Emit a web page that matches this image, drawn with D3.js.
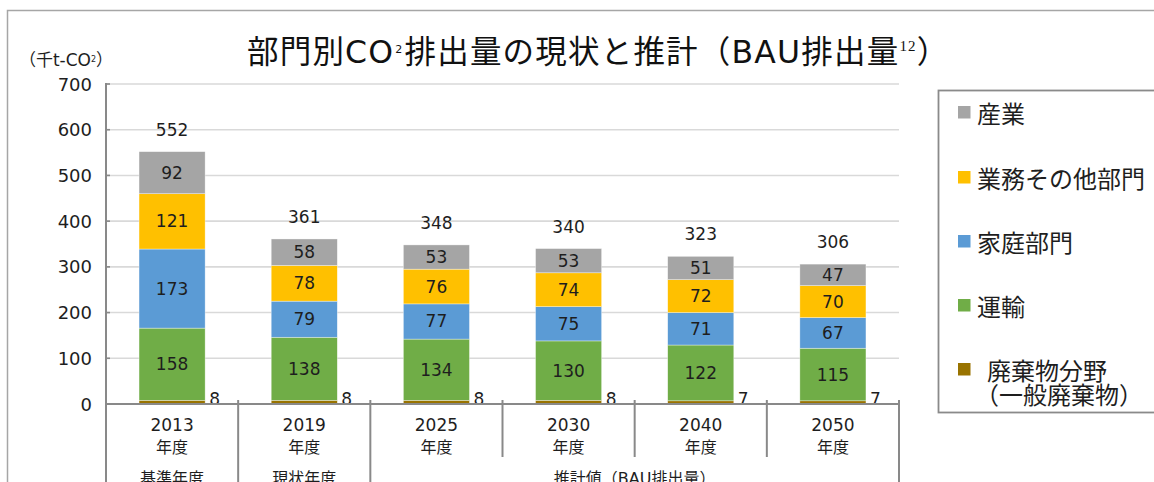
<!DOCTYPE html>
<html>
<head>
<meta charset="utf-8">
<script src="https://cdn.jsdelivr.net/npm/d3@7"></script>
<style>
  html, body { margin: 0; padding: 0; background: #fff; }
  svg { display: block; }
</style>
</head>
<body>
<svg id="chart" width="1154" height="482"></svg>
<script>
// ---- data ----
const years = ["2013", "2019", "2025", "2030", "2040", "2050"];
const waste = [8, 8, 8, 8, 7, 7];          // 廃棄物分野（一般廃棄物）
const transport = [158, 138, 134, 130, 122, 115]; // 運輸
const household = [173, 79, 77, 75, 71, 67];      // 家庭部門
const business = [121, 78, 76, 74, 72, 70];       // 業務その他部門
const industry = [92, 58, 53, 53, 51, 47];        // 産業
const totals = [552, 361, 348, 340, 323, 306];
const yTicks = [0, 100, 200, 300, 400, 500, 600, 700];
const groupLabels = ["基準年度", "現状年度", "推計値（BAU排出量）"];
const groupStart = [0, 1, 2];
const groupEnd = [0, 1, 5];

const seriesNames = ["廃棄物分野", "運輸", "家庭部門", "業務その他部門", "産業"];
const seriesValues = [waste, transport, household, business, industry];
const seriesColors = ["#997300", "#70AD47", "#5B9BD5", "#FFC000", "#A5A5A5"];

(function () {
const FONT = '"DejaVu Sans", "Noto Sans CJK JP", sans-serif';
const JFONT = '"Noto Sans CJK JP", "DejaVu Sans", sans-serif';
const TXT = "#1e1e1e";

const svg = d3.select("#chart");

// outer chart border (extends beyond the photographed area)
svg.append("rect").attr("x", 7.5).attr("y", 10.5).attr("width", 1300).attr("height", 600)
  .attr("fill", "none").attr("stroke", "#a6a6a6").attr("stroke-width", 1.5);

const pL = 106, pR = 899, pT = 84, pB = 404;

const x = d3.scaleBand().domain(years).range([pL, pR]).padding(0);
const y = d3.scaleLinear().domain([0, 700]).range([pB, pT]);
const bw = x.bandwidth();

// gridlines
svg.append("g").selectAll("line").data(yTicks.filter(d => d > 0)).join("line")
  .attr("x1", pL).attr("x2", pR)
  .attr("y1", d => y(d)).attr("y2", d => y(d))
  .attr("stroke", "#d9d9d9").attr("stroke-width", 1.6);

// y tick labels
svg.append("g").selectAll("text").data(yTicks).join("text")
  .attr("x", 92).attr("y", d => y(d))
  .attr("text-anchor", "end").attr("dominant-baseline", "central")
  .attr("font-family", FONT).attr("font-size", 18).attr("fill", TXT)
  .text(d => d);

// unit label
const unit = svg.append("text").attr("x", 66).attr("y", 66)
  .attr("text-anchor", "middle").attr("font-family", FONT).attr("font-size", 17).attr("fill", TXT);
unit.append("tspan").text("（千t-CO");
unit.append("tspan").attr("font-size", 8).attr("dy", -4).text("2");
unit.append("tspan").attr("dy", 4).text("）");

// stacked bars
const stackData = years.map((yr, i) => {
  const o = { year: yr };
  seriesNames.forEach((s, k) => o[s] = seriesValues[k][i]);
  return o;
});
const stacked = d3.stack().keys(seriesNames)(stackData);

const gBars = svg.append("g");
stacked.forEach((layer, k) => {
  gBars.append("g").selectAll("rect").data(layer).join("rect")
    .attr("x", d => x(d.data.year) + bw * 0.25)
    .attr("width", bw * 0.5)
    .attr("y", d => y(d[1]))
    .attr("height", d => y(d[0]) - y(d[1]))
    .attr("fill", seriesColors[k])
    .attr("stroke", "#ffffff").attr("stroke-width", 0.6).attr("stroke-opacity", 0.6);
});

// segment labels (except waste)
stacked.forEach((layer, k) => {
  if (k === 0) return;
  svg.append("g").selectAll("text").data(layer).join("text")
    .attr("x", d => x(d.data.year) + bw / 2)
    .attr("y", d => y((d[0] + d[1]) / 2))
    .attr("text-anchor", "middle").attr("dominant-baseline", "central")
    .attr("font-family", FONT).attr("font-size", 17).attr("fill", TXT)
    .text(d => d[1] - d[0]);
});

// waste labels to the right of the bar
svg.append("g").selectAll("text").data(stacked[0]).join("text")
  .attr("x", d => x(d.data.year) + bw * 0.75 + 4)
  .attr("y", d => y((d[0] + d[1]) / 2) - 3)
  .attr("text-anchor", "start").attr("dominant-baseline", "central")
  .attr("font-family", FONT).attr("font-size", 17).attr("fill", TXT)
  .text(d => d[1] - d[0]);

// totals
svg.append("g").selectAll("text").data(years).join("text")
  .attr("x", d => x(d) + bw / 2)
  .attr("y", (d, i) => y(totals[i]) - 22)
  .attr("text-anchor", "middle").attr("dominant-baseline", "central")
  .attr("font-family", FONT).attr("font-size", 17).attr("fill", TXT)
  .text((d, i) => totals[i]);

// axes
const AX = "#898989";
svg.append("line").attr("x1", pL).attr("x2", pR).attr("y1", pB).attr("y2", pB)
  .attr("stroke", AX).attr("stroke-width", 2);
svg.append("line").attr("x1", pL).attr("x2", pL).attr("y1", pT - 1).attr("y2", 500)
  .attr("stroke", AX).attr("stroke-width", 2);
// y ticks (inside)
svg.append("g").selectAll("line").data(yTicks).join("line")
  .attr("x1", pL).attr("x2", pL + 4).attr("y1", d => y(d)).attr("y2", d => y(d))
  .attr("stroke", AX).attr("stroke-width", 1.6);

// category separators
const boundaries = d3.range(1, years.length + 1);
const groupBoundary = new Set(groupEnd.map(e => e + 1));
svg.append("g").selectAll("line").data(boundaries).join("line")
  .attr("x1", i => pL + i * bw).attr("x2", i => pL + i * bw)
  .attr("y1", pB - 4)
  .attr("y2", i => groupBoundary.has(i) ? 500 : 457)
  .attr("stroke", AX).attr("stroke-width", 2);

// year labels
const yl = svg.append("g").selectAll("g").data(years).join("g");
yl.append("text").attr("x", d => x(d) + bw / 2).attr("y", 425)
  .attr("text-anchor", "middle").attr("dominant-baseline", "central")
  .attr("font-family", FONT).attr("font-size", 17).attr("fill", TXT).text(d => d);
yl.append("text").attr("x", d => x(d) + bw / 2).attr("y", 446)
  .attr("text-anchor", "middle").attr("dominant-baseline", "central")
  .attr("font-family", JFONT).attr("font-size", 16).attr("fill", TXT).text("年度");

// group labels (partly cut by the picture's lower edge, as in the original)
svg.append("g").selectAll("text").data(groupLabels).join("text")
  .attr("x", (d, i) => (x(years[groupStart[i]]) + x(years[groupEnd[i]]) + bw) / 2)
  .attr("y", 478.5)
  .attr("text-anchor", "middle").attr("dominant-baseline", "central")
  .attr("font-family", FONT).attr("font-size", 16).attr("fill", TXT).text(d => d);

// title
const title = svg.append("text").attr("x", 247).attr("y", 63)
  .attr("font-family", FONT).attr("font-size", 31.5).attr("letter-spacing", 1.2).attr("fill", "#111");
title.append("tspan").text("部門別CO");
title.append("tspan").attr("font-size", 11).attr("dy", -10).attr("dx", 1).text("2");
title.append("tspan").attr("dy", 10).attr("dx", 1).text("排出量の現状と推計（BAU排出量");
title.append("tspan").attr("font-size", 15).attr("font-family", '"Liberation Serif", serif').attr("dy", -12).text("12");
title.append("tspan").attr("dy", 12).text("）");

// legend
svg.append("rect").attr("x", 938.5).attr("y", 90.5).attr("width", 400).attr("height", 322)
  .attr("fill", "#fff").attr("stroke", "#8a8a8a").attr("stroke-width", 1.8);
const legendOrder = [4, 3, 2, 1, 0];
const legendRowY = [112, 177, 241, 305, 369];
const legendText = ["産業", "業務その他部門", "家庭部門", "運輸", "廃棄物分野"];
const lg = svg.append("g").selectAll("g").data(legendOrder).join("g");
lg.append("rect").attr("x", 958).attr("y", (d, i) => legendRowY[i] - 6)
  .attr("width", 12.5).attr("height", 12.5).attr("fill", d => seriesColors[d]);
lg.append("text").attr("x", (d, i) => i === 4 ? 987 : 977).attr("y", (d, i) => legendRowY[i])
  .attr("dominant-baseline", "central")
  .attr("font-family", JFONT).attr("font-size", 24).attr("fill", TXT)
  .text((d, i) => legendText[i]);
svg.append("text").attr("x", 975).attr("y", 393).attr("dominant-baseline", "central")
  .attr("font-family", JFONT).attr("font-size", 24).attr("fill", TXT).text("（一般廃棄物）");
})();
</script>
</body>
</html>
